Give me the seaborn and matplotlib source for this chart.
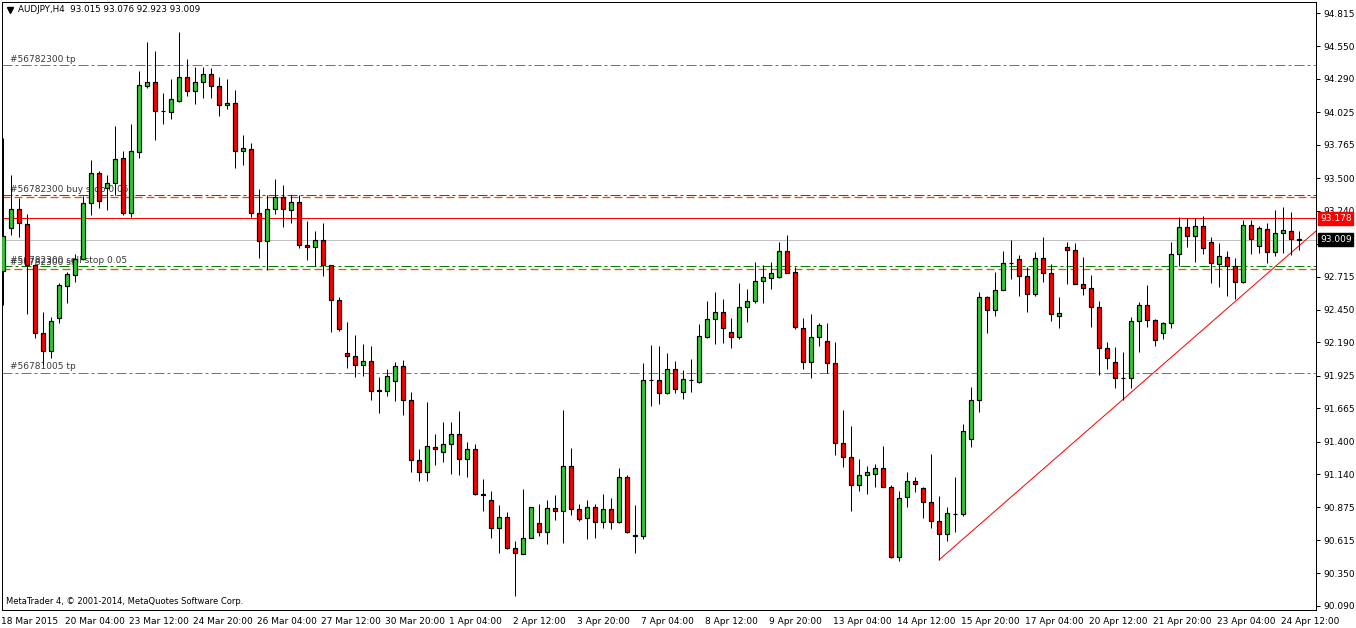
import matplotlib
matplotlib.use('Agg')
import matplotlib.pyplot as plt
import matplotlib.transforms as mtransforms
import numpy as np
import pandas as pd
import seaborn as sns

# AUDJPY H4 candles, 18 Mar 2015 20:00 .. 24 Apr 2015 20:00
opens = [92.762, 93.099, 93.250, 93.131, 92.807, 92.262, 92.121, 92.382, 92.642, 92.727,
         92.852, 93.298, 93.537, 93.423, 93.457, 93.657, 93.224, 93.710, 94.236, 94.262,
         94.036, 94.028, 94.116, 94.302, 94.190, 94.265, 94.326, 94.230, 94.079, 94.095,
         93.718, 93.728, 93.219, 92.998, 93.253, 93.346, 93.242, 93.311, 92.966, 92.947,
         93.003, 92.804, 92.528, 92.103, 92.082, 92.008, 92.040, 91.809, 91.801, 91.885,
         92.000, 91.729, 91.253, 91.160, 91.357, 91.320, 91.378, 91.458, 91.259, 91.338,
         90.980, 90.932, 90.709, 90.797, 90.550, 90.502, 90.629, 90.749, 90.677, 90.868,
         90.850, 91.203, 90.860, 90.789, 90.876, 90.762, 90.860, 90.762, 91.115, 90.653,
         90.648, 91.891, 91.888, 91.790, 91.976, 91.798, 91.894, 91.878, 92.236, 92.374,
         92.430, 92.276, 92.231, 92.470, 92.518, 92.677, 92.701, 92.714, 92.916, 92.749,
         92.303, 92.032, 92.231, 92.199, 92.024, 91.386, 91.275, 91.052, 91.131, 91.139,
         91.187, 91.041, 90.483, 90.961, 91.089, 91.028, 90.916, 90.767, 90.661, 90.826,
         90.821, 91.418, 91.732, 92.555, 92.449, 92.605, 92.820, 92.852, 92.717, 92.573,
         92.860, 92.741, 92.403, 92.948, 92.929, 92.653, 92.621, 92.475, 92.143, 92.032,
         91.909, 91.904, 92.361, 92.488, 92.366, 92.263, 92.342, 92.892, 93.107, 93.038,
         93.118, 92.988, 92.812, 92.868, 92.799, 92.669, 93.126, 92.961, 93.091, 92.913,
         93.059, 93.075, 93.015]
highs = [93.816, 93.524, 93.338, 93.210, 92.812, 92.435, 92.392, 92.661, 92.754, 92.892,
         93.356, 93.643, 93.558, 93.524, 93.914, 93.715, 93.930, 94.353, 94.586, 94.515,
         94.175, 94.289, 94.666, 94.448, 94.387, 94.382, 94.374, 94.302, 94.286, 94.201,
         93.843, 93.776, 93.412, 93.365, 93.489, 93.444, 93.365, 93.365, 93.157, 93.080,
         93.139, 92.807, 92.549, 92.350, 92.249, 92.178, 92.162, 91.917, 91.978, 92.032,
         92.050, 91.793, 91.341, 91.718, 91.458, 91.553, 91.553, 91.644, 91.394, 91.378,
         91.099, 91.006, 90.895, 90.842, 90.608, 91.020, 90.876, 90.903, 90.935, 90.975,
         91.652, 91.346, 90.903, 90.935, 90.903, 90.983, 90.953, 91.192, 91.134, 90.895,
         92.024, 92.170, 92.162, 92.109, 92.042, 91.971, 92.058, 92.337, 92.520, 92.595,
         92.536, 92.382, 92.661, 92.613, 92.829, 92.807, 92.834, 92.988, 93.046, 92.794,
         92.382, 92.414, 92.343, 92.343, 92.191, 91.652, 91.524, 91.259, 91.206, 91.222,
         91.365, 91.054, 91.009, 91.155, 91.115, 91.041, 91.299, 90.967, 90.882, 91.115,
         91.540, 91.833, 92.595, 92.563, 92.754, 92.919, 93.006, 92.887, 92.794, 92.908,
         93.028, 92.812, 92.549, 92.993, 92.980, 92.868, 92.725, 92.520, 92.191, 92.154,
         92.111, 92.393, 92.510, 92.648, 92.377, 92.356, 92.993, 93.192, 93.179, 93.179,
         93.198, 93.028, 92.980, 92.919, 92.860, 93.166, 93.166, 93.118, 93.144, 93.245,
         93.272, 93.227, 93.076]
lows = [92.488, 93.046, 93.027, 92.414, 92.228, 92.010, 92.063, 92.347, 92.507, 92.674,
        92.847, 93.205, 93.263, 93.245, 93.365, 93.205, 93.192, 93.662, 94.220, 93.803,
        93.930, 93.970, 94.108, 94.153, 94.087, 94.140, 94.140, 93.997, 94.047, 93.582,
        93.604, 93.192, 92.860, 92.767, 93.210, 93.112, 93.144, 92.945, 92.847, 92.801,
        92.722, 92.276, 92.281, 91.989, 91.917, 91.925, 91.731, 91.625, 91.766, 91.723,
        91.612, 91.160, 91.086, 91.086, 91.213, 91.240, 91.142, 91.134, 91.121, 90.974,
        90.850, 90.634, 90.510, 90.547, 90.172, 90.502, 90.629, 90.650, 90.581, 90.775,
        90.589, 90.815, 90.770, 90.621, 90.629, 90.709, 90.703, 90.754, 90.674, 90.515,
        90.621, 91.686, 91.700, 91.779, 91.790, 91.740, 91.798, 91.870, 92.228, 92.178,
        92.188, 92.149, 92.215, 92.356, 92.505, 92.507, 92.613, 92.701, 92.741, 92.295,
        91.979, 91.910, 92.165, 91.949, 91.293, 91.200, 90.850, 91.009, 90.980, 91.041,
        91.036, 90.470, 90.451, 90.882, 91.001, 90.789, 90.714, 90.457, 90.608, 90.683,
        90.810, 91.360, 91.633, 92.268, 92.403, 92.605, 92.693, 92.563, 92.435, 92.563,
        92.674, 92.364, 92.308, 92.658, 92.653, 92.568, 92.316, 91.931, 91.978, 91.824,
        91.731, 91.824, 92.117, 92.310, 92.164, 92.215, 92.302, 92.802, 92.953, 92.834,
        92.892, 92.666, 92.629, 92.563, 92.534, 92.661, 92.892, 92.900, 92.820, 92.879,
        92.900, 92.887, 92.923]
closes = [93.040, 93.250, 93.139, 92.807, 92.262, 92.121, 92.360, 92.647, 92.732, 92.852,
          93.298, 93.537, 93.319, 93.457, 93.649, 93.218, 93.715, 94.241, 94.262, 94.036,
          94.031, 94.127, 94.302, 94.193, 94.268, 94.326, 94.230, 94.079, 94.095, 93.718,
          93.736, 93.219, 92.998, 93.253, 93.346, 93.253, 93.311, 92.966, 92.947, 93.003,
          92.807, 92.528, 92.294, 92.082, 92.008, 92.040, 91.806, 91.803, 91.920, 92.000,
          91.729, 91.253, 91.160, 91.362, 91.338, 91.378, 91.458, 91.259, 91.338, 90.980,
          90.974, 90.709, 90.797, 90.555, 90.510, 90.629, 90.876, 90.677, 90.868, 90.850,
          91.203, 90.860, 90.781, 90.876, 90.762, 90.860, 90.762, 91.115, 90.682, 90.648,
          91.888, 91.891, 91.790, 91.976, 91.817, 91.896, 91.891, 92.242, 92.374, 92.430,
          92.303, 92.231, 92.470, 92.518, 92.677, 92.709, 92.741, 92.921, 92.746, 92.316,
          92.037, 92.231, 92.329, 92.024, 91.386, 91.275, 91.052, 91.131, 91.155, 91.187,
          91.041, 90.478, 90.953, 91.089, 91.060, 90.916, 90.767, 90.661, 90.829, 90.826,
          91.487, 91.732, 92.555, 92.449, 92.605, 92.820, 92.820, 92.717, 92.573, 92.860,
          92.741, 92.414, 92.422, 92.929, 92.653, 92.621, 92.475, 92.143, 92.063, 91.909,
          91.904, 92.361, 92.488, 92.366, 92.207, 92.342, 92.892, 93.107, 93.038, 93.118,
          92.940, 92.820, 92.879, 92.799, 92.674, 93.126, 93.012, 93.099, 92.913, 93.059,
          93.083, 93.012, 93.009]

# time axis labels (every 8th bar)
tick_bars = [0, 8, 16, 24, 32, 40, 48, 56, 64, 72, 80, 88, 96, 104, 112, 120, 128,
             136, 144, 152, 160]
tick_text = ['18 Mar 2015', '20 Mar 04:00', '23 Mar 12:00', '24 Mar 20:00', '26 Mar 04:00',
             '27 Mar 12:00', '30 Mar 20:00', '1 Apr 04:00', '2 Apr 12:00', '3 Apr 20:00',
             '7 Apr 04:00', '8 Apr 12:00', '9 Apr 20:00', '13 Apr 04:00', '14 Apr 12:00',
             '15 Apr 20:00', '17 Apr 04:00', '20 Apr 12:00', '21 Apr 20:00', '23 Apr 04:00',
             '24 Apr 12:00']
price_ticks = [94.815, 94.550, 94.290, 94.025, 93.765, 93.500, 93.240, 92.975, 92.715,
               92.450, 92.190, 91.925, 91.665, 91.400, 91.140, 90.875, 90.615, 90.350, 90.090]

# order / object lines
tp_upper = 94.397
buy_stop = 93.364
buy_stop_sl = 93.348
sell_stop = 92.799
sell_stop_sl = 92.777
tp_lower = 91.947
red_level = 93.178
bid = 93.009
trend_from = (117, 90.457)
trend_to = (162, 92.960)

df = pd.DataFrame({'open': opens, 'high': highs, 'low': lows, 'close': closes})
df['bar'] = np.arange(len(df))
df['bull'] = df['close'] >= df['open']
df['body_lo'] = df[['open', 'close']].min(axis=1)
df['body_h'] = (df['close'] - df['open']).abs()

sns.set_style('white')
plt.rcParams['font.family'] = ['DejaVu Sans']
plt.rcParams['lines.scale_dashes'] = False

W, H = 1356, 628
fig = plt.figure(figsize=(W / 100, H / 100), dpi=100)
ax = fig.add_axes([2 / W, 1 - 610 / H, 1314 / W, 608 / H])
ax.set_xlim(-0.125, 164.125)
ax.set_ylim(90.058, 94.903)

px = 0.72  # one pixel in points
orange = '#FF4500'
green = '#008000'
dashdot = (0, (10 * px, 3 * px, 3 * px, 3 * px))
dashed = (0, (8 * px, 4 * px))

ax.axhline(tp_upper, color=orange, lw=px, ls=dashdot, zorder=1)
ax.axhline(tp_lower, color=orange, lw=px, ls=dashdot, zorder=1)
ax.axhline(buy_stop, color=green, lw=px, ls=dashdot, zorder=1)
ax.axhline(buy_stop_sl, color=orange, lw=px * 1.3, ls=dashed, zorder=1.2)
ax.axhline(sell_stop, color=green, lw=px, ls=dashdot, zorder=1)
ax.axhline(sell_stop_sl, color=orange, lw=px * 1.3, ls=dashed, zorder=1.2)
ax.axhline(red_level, color='#FF0000', lw=px, zorder=1)
ax.axhline(bid, color='#C0C0C0', lw=px, zorder=1)

# trend line (ray to the right edge)
slope = (trend_to[1] - trend_from[1]) / (trend_to[0] - trend_from[0])
x_end = ax.get_xlim()[1]
ax.plot([trend_from[0], x_end], [trend_from[1], trend_from[1] + slope * (x_end - trend_from[0])],
        color='#FF0000', lw=px, zorder=2)

lbl_col = '#3A3A3A'
lbl_kw = dict(fontsize=6.5, color=lbl_col, ha='left', va='bottom', zorder=1.5)
ax.text(0.9, tp_upper + 0.012, '#56782300 tp', **lbl_kw)
ax.text(0.9, buy_stop + 0.012, '#56782300 buy stop 0.05', **lbl_kw)
ax.text(0.9, sell_stop + 0.012, '#56782300 sell stop 0.05', **lbl_kw)
ax.text(0.9, sell_stop_sl + 0.012, '#56782300 sl', **lbl_kw)
ax.text(0.9, tp_lower + 0.012, '#56781005 tp', **lbl_kw)

# candles
ax.vlines(df['bar'], df['low'], df['high'], color='black', lw=px, zorder=3)
colors = np.where(df['bull'], '#32CD32', '#FF0000')
ax.bar(df['bar'], df['body_h'], bottom=df['body_lo'], width=0.62, color=colors,
       edgecolor='black', linewidth=px * 1.2, zorder=4)

# axes styling
for s in ax.spines.values():
    s.set_color('black')
    s.set_linewidth(px)
ax.yaxis.tick_right()
ax.set_yticks(price_ticks)
ax.set_yticklabels(['%.3f' % p for p in price_ticks])
ax.set_xticks(tick_bars)
ax.set_xticklabels(tick_text, ha='left')
ax.tick_params(axis='y', direction='out', length=3, width=px, labelsize=6.5, pad=2,
               colors='black')
ax.tick_params(axis='x', direction='out', length=3, width=px, labelsize=6.5, pad=2,
               colors='black')
offset = mtransforms.ScaledTranslation(-2 / 100, 0, fig.dpi_scale_trans)
for lab in ax.get_xticklabels():
    lab.set_transform(lab.get_transform() + offset)

# price tags at the right
trans = mtransforms.blended_transform_factory(ax.transAxes, ax.transData)
ax.text(1.003, red_level, '%.3f' % red_level, transform=trans, fontsize=6.5, color='white',
        va='center', ha='left', zorder=10,
        bbox=dict(boxstyle='square,pad=0.2', fc='#FF0000', ec='#FF0000'))
ax.text(1.003, bid, '%.3f' % bid, transform=trans, fontsize=6.5, color='white',
        va='center', ha='left', zorder=10,
        bbox=dict(boxstyle='square,pad=0.2', fc='black', ec='black'))

# header and footer
ax.plot([0.0062], [0.987], marker='v', color='black', markersize=4, transform=ax.transAxes,
        clip_on=False)
ax.text(0.0125, 0.987, 'AUDJPY,H4  93.015 93.076 92.923 93.009', transform=ax.transAxes,
        fontsize=6.3, va='center', ha='left', color='black')
ax.text(0.003, 0.014, 'MetaTrader 4, \u00a9 2001-2014, MetaQuotes Software Corp.',
        transform=ax.transAxes, fontsize=6, va='center', ha='left', color='black')

fig.savefig('out.png', dpi=100)
